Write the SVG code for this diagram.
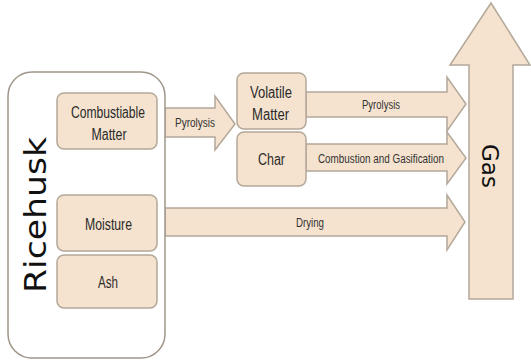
<svg xmlns="http://www.w3.org/2000/svg" width="531" height="363" viewBox="0 0 531 363">
<style>
.box{fill:#F5E3CF;stroke:#B3A899;stroke-width:1.5}
.arr{fill:#F5E3CF;stroke:#B3A899;stroke-width:1.5;stroke-linejoin:miter}
.lbl{font-family:"Liberation Sans",Arial,sans-serif;font-size:16px;fill:#2a2a2a;text-anchor:middle}
.sm{font-family:"Liberation Sans",Arial,sans-serif;font-size:12px;fill:#333;text-anchor:middle}
.big{font-family:"DejaVu Sans","Open Sans",sans-serif;fill:#111;text-anchor:middle}
</style>
<g id="connectors">
<polygon class="arr" points="165,108 215,108 215,96 235,124 215,150 215,137 165,137"/>
<text class="sm" x="195" y="127" textLength="40" lengthAdjust="spacingAndGlyphs">Pyrolysis</text>
<polygon class="arr" points="306,92 447,92 447,77 466,104 447,131 447,117 306,117"/>
<text class="sm" x="381" y="109" textLength="38" lengthAdjust="spacingAndGlyphs">Pyrolysis</text>
<polygon class="arr" points="306,144 447,144 447,132 466,158 447,184 447,171 306,171"/>
<text class="sm" x="381" y="163" textLength="126" lengthAdjust="spacingAndGlyphs">Combustion and Gasification</text>
<polygon class="arr" points="165,208 447,208 447,195 465,222 447,250 447,236 165,236"/>
<text class="sm" x="310" y="227" textLength="28" lengthAdjust="spacingAndGlyphs">Drying</text>
</g>
<g id="gas">
<polygon class="arr" points="469,299 469,65 450,65 491,3 530,65 513,65 513,299"/>
<text class="big" font-size="23" transform="translate(482,166) rotate(90)">Gas</text>
</g>
<g id="ricehusk">
<rect x="8" y="72" width="157" height="286" rx="24" ry="24" fill="#fff" stroke="#A0968A" stroke-width="1.5"/>
<text class="big" font-size="30" textLength="156" lengthAdjust="spacingAndGlyphs" transform="translate(46,215) rotate(-90)">Ricehusk</text>
</g>
<g id="combustiable">
<rect class="box" x="57" y="93" width="100" height="56" rx="7"/>
<text class="lbl" x="108" y="118" textLength="74" lengthAdjust="spacingAndGlyphs">Combustiable</text>
<text class="lbl" x="109" y="140" textLength="35" lengthAdjust="spacingAndGlyphs">Matter</text>
</g>
<g id="moisture">
<rect class="box" x="57" y="195" width="100" height="56" rx="7"/>
<text class="lbl" x="108.5" y="230" textLength="47" lengthAdjust="spacingAndGlyphs">Moisture</text>
</g>
<g id="ash">
<rect class="box" x="57" y="255" width="100" height="53" rx="7"/>
<text class="lbl" x="108" y="288" textLength="20" lengthAdjust="spacingAndGlyphs">Ash</text>
</g>
<g id="volatile">
<rect class="box" x="237" y="73" width="69" height="56" rx="7"/>
<text class="lbl" x="271" y="98" textLength="42" lengthAdjust="spacingAndGlyphs">Volatile</text>
<text class="lbl" x="270.5" y="120" textLength="37" lengthAdjust="spacingAndGlyphs">Matter</text>
</g>
<g id="char">
<rect class="box" x="237" y="132" width="69" height="54" rx="7"/>
<text class="lbl" x="271.5" y="165" textLength="27" lengthAdjust="spacingAndGlyphs">Char</text>
</g>
</svg>
